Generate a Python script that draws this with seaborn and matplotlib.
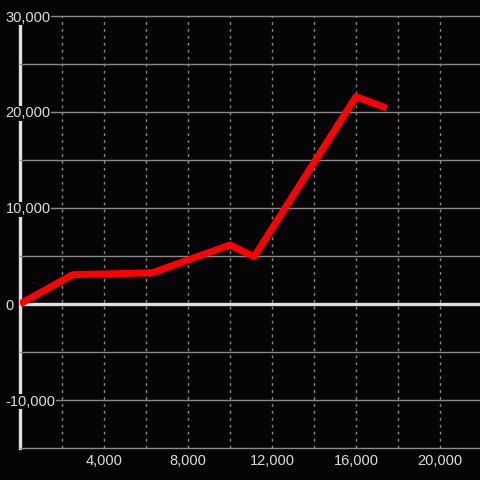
import matplotlib
matplotlib.use("Agg")
import matplotlib.pyplot as plt
import seaborn as sns

# data
x_vals = [0, 2500, 6300, 10000, 11150, 16000, 17450]
y_vals = [0, 3050, 3250, 6150, 4930, 21600, 20400]

x_ticks = [2000, 4000, 6000, 8000, 10000, 12000, 14000, 16000, 18000, 20000]
x_labels = ['', '4,000', '', '8,000', '', '12,000', '', '16,000', '', '20,000']
y_ticks = [-15000, -10000, -5000, 0, 5000, 10000, 15000, 20000, 25000, 30000]
y_labels = ['', '-10,000', '', '0', '', '10,000', '', '20,000', '', '30,000']

bg = '#050407'
txt = '#dddddd'

sns.set_style("dark")
plt.rcParams['font.family'] = ['Liberation Sans', 'DejaVu Sans']

fig = plt.figure(figsize=(4.8, 4.8), dpi=100, facecolor=bg)
ax = fig.add_axes([20 / 480, 32 / 480, 460 / 480, 432 / 480])
ax.set_facecolor(bg)

sns.lineplot(x=x_vals, y=y_vals, ax=ax, color='#ff0000', linewidth=5,
             solid_capstyle='butt', zorder=3, sort=False)

# zero line
ax.axhline(0, color='#e0e0e0', linewidth=2.4, zorder=1)

ax.set_xlim(0, 21905)
ax.set_ylim(-15000, 30000)
ax.set_axisbelow(True)

ax.set_xticks(x_ticks)
ax.set_xticklabels(x_labels)
ax.set_yticks(y_ticks)
ax.set_yticklabels(y_labels)
ax.set_xlabel('')
ax.set_ylabel('')

ax.grid(False)
ax.yaxis.grid(True, color='#8a8a8a', linewidth=1, linestyle='-')
ax.xaxis.grid(True, color='#8a8a8a', linewidth=1, linestyle=(0, (2, 3)))
for gl in ax.yaxis.get_gridlines():
    gl.set_clip_on(False)

ax.tick_params(axis='both', length=0, labelcolor=txt, labelsize=10.5)
ax.tick_params(axis='x', pad=4)
ax.tick_params(axis='y', pad=10.5)
for lab in ax.get_yticklabels():
    lab.set_horizontalalignment('left')
    lab.set_bbox(dict(boxstyle='square,pad=0.05', facecolor=bg, edgecolor='none'))

for side in ['top', 'right', 'bottom']:
    ax.spines[side].set_visible(False)
ax.spines['left'].set_color('#e0e0e0')
ax.spines['left'].set_linewidth(2.4)
ax.spines['left'].set_zorder(0.4)

fig.savefig('out.png', dpi=100, facecolor=bg)
